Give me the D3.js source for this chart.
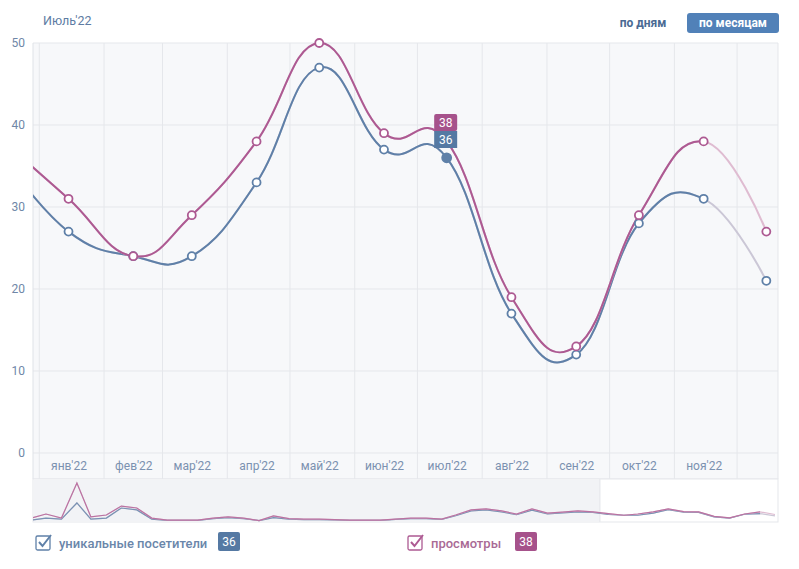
<!DOCTYPE html>
<html>
<head>
<meta charset="utf-8">
<script src="https://cdn.jsdelivr.net/npm/d3@7"></script>
<style>
    body { margin: 0; background: #fff; font-family: Roboto, "Noto Sans", sans-serif; }
    svg text { font-family: Roboto, "Noto Sans", sans-serif; }
</style>
</head>
<body>
<div id="chart"></div>
<script>
// Monthly points, Dec'21 sits just left of the visible range
const months = ['2021-12-15', '2022-01-15', '2022-02-15', '2022-03-15', '2022-04-15', '2022-05-15',
    '2022-06-15', '2022-07-15', '2022-08-15', '2022-09-15', '2022-10-15', '2022-11-15', '2022-12-15'];
const visitors = [36, 27, 24, 24, 33, 47, 37, 36, 17, 12, 28, 31, 21];
const views = [38, 31, 24, 29, 38, 50, 39, 38, 19, 13, 29, 38, 27];

const tickLabels = ["янв'22", "фев'22", "мар'22", "апр'22", "май'22", "июн'22",
    "июл'22", "авг'22", "сен'22", "окт'22", "ноя'22"];
const yTicks = [0, 10, 20, 30, 40, 50];

// Navigator history Nov'18 .. Nov'21
const historyStart = '2018-11-15';
const historyVisitors = [4, 12,
    8, 75, 8, 12, 54, 46, 8, 3, 3, 3, 10, 14,
    10, 2, 14, 8, 6, 6, 5, 3, 3, 3, 7, 10,
    10, 7, 22, 42, 46, 38, 26, 45, 30, 34, 38];
const historyViews = [12, 29,
    12, 158, 17, 25, 62, 54, 12, 4, 4, 4, 12, 17,
    12, 2, 21, 10, 8, 8, 6, 4, 4, 4, 8, 12,
    12, 8, 25, 46, 50, 42, 29, 50, 33, 37, 42];

const hoverIndex = 7; // июл'22
const title = "Июль'22";
const seriesNames = ['уникальные посетители', 'просмотры'];

class StatsChart {
    constructor() {
        this.width = 799;
        this.height = 569;
        this.plot = { left: 33, right: 778, top: 43, bottom: 453, band: 479 };
        this.nav = { top: 479, bottom: 522 };
        this.colors = ['#5f80a8', '#ad5a92'];
        this.fadedColors = ['#cbc7d6', '#dfbcd1'];
        this.badgeColors = ['#5579a3', '#a6528b'];
        this.grid = '#e5e7eb';

        this.parse = d3.timeParse('%Y-%m-%d');
        this.dates = months.map(this.parse);

        this.svg = d3.select('#chart').append('svg')
            .attr('width', this.width)
            .attr('height', this.height);

        this.buildScales();
        this.drawBackground();
        this.drawSeries();
        this.drawTooltip();
        this.drawNavigator();
        this.drawHeader();
        this.drawLegend();
    }

    buildScales() {
        this.x = d3.scaleTime()
            .domain([new Date(2021, 11, 29), new Date(2022, 11, 20, 14)])
            .range([this.plot.left, this.plot.right]);
        this.y = d3.scaleLinear()
            .domain([0, 50])
            .range([this.plot.bottom, this.plot.top]);
    }

    drawBackground() {
        const p = this.plot;
        this.svg.append('rect')
            .attr('x', p.left).attr('y', p.top)
            .attr('width', p.right - p.left).attr('height', p.band - p.top)
            .attr('fill', '#f7f8fa');

        // month boundaries
        const bounds = d3.timeMonth.range(new Date(2022, 0, 1), new Date(2022, 11, 2));
        this.svg.append('g').selectAll('line')
            .data(bounds)
            .join('line')
            .attr('x1', d => this.x(d)).attr('x2', d => this.x(d))
            .attr('y1', p.top).attr('y2', p.band)
            .attr('stroke', this.grid);

        this.svg.append('g').selectAll('line')
            .data(yTicks)
            .join('line')
            .attr('x1', p.left).attr('x2', p.right)
            .attr('y1', d => this.y(d)).attr('y2', d => this.y(d))
            .attr('stroke', this.grid);

        this.svg.append('line')
            .attr('x1', p.left).attr('x2', p.right)
            .attr('y1', p.band).attr('y2', p.band)
            .attr('stroke', this.grid);
        this.svg.append('line')
            .attr('x1', p.left).attr('x2', p.left)
            .attr('y1', p.top).attr('y2', p.band)
            .attr('stroke', '#dfe2e7');
        this.svg.append('line')
            .attr('x1', p.right).attr('x2', p.right)
            .attr('y1', p.top).attr('y2', p.band)
            .attr('stroke', this.grid);

        // y axis labels
        const yAxis = d3.axisLeft(this.y).tickValues(yTicks).tickSize(0).tickPadding(0);
        const gy = this.svg.append('g')
            .attr('transform', `translate(${p.left - 8},0)`)
            .call(yAxis);
        gy.select('.domain').remove();
        gy.selectAll('text').attr('fill', '#6f87a7').style('font-size', '12px');

        // month labels in the band under zero
        const tickDates = this.dates.slice(1, 1 + tickLabels.length);
        const xAxis = d3.axisBottom(this.x)
            .tickValues(tickDates)
            .tickFormat((d, i) => tickLabels[i])
            .tickSize(0).tickPadding(0);
        const gx = this.svg.append('g')
            .attr('transform', `translate(0,${p.bottom + 8})`)
            .call(xAxis);
        gx.select('.domain').remove();
        gx.selectAll('text').attr('fill', '#7b91b0').style('font-size', '12px');
    }

    drawSeries() {
        const p = this.plot;
        const defs = this.svg.append('defs');
        defs.append('clipPath').attr('id', 'plot-clip')
            .append('rect')
            .attr('x', p.left).attr('y', p.top - 10)
            .attr('width', p.right - p.left).attr('height', p.bottom - p.top + 20);
        // solid part ends at the last complete month
        const lastFull = this.x(this.dates[this.dates.length - 2]);
        defs.append('clipPath').attr('id', 'solid-clip')
            .append('rect')
            .attr('x', p.left).attr('y', p.top - 10)
            .attr('width', lastFull - p.left).attr('height', p.bottom - p.top + 20);

        const line = d3.line()
            .x((d, i) => this.x(this.dates[i]))
            .y(d => this.y(d))
            .curve(d3.curveCardinal.tension(-0.3));

        const series = [visitors, views];
        const g = this.svg.append('g').attr('clip-path', 'url(#plot-clip)');
        series.forEach((values, s) => {
            g.append('path')
                .attr('d', line(values))
                .attr('fill', 'none')
                .attr('stroke', this.fadedColors[s])
                .attr('stroke-width', 2);
            g.append('path')
                .attr('d', line(values))
                .attr('clip-path', 'url(#solid-clip)')
                .attr('fill', 'none')
                .attr('stroke', this.colors[s])
                .attr('stroke-width', 2);
        });

        series.forEach((values, s) => {
            const pts = values.map((v, i) => ({ v, i })).filter(d => d.i > 0);
            this.svg.append('g').selectAll('circle')
                .data(pts)
                .join('circle')
                .attr('cx', d => this.x(this.dates[d.i]))
                .attr('cy', d => this.y(d.v))
                .attr('r', d => d.i === hoverIndex && s === 0 ? 4.5 : 4)
                .attr('fill', d => d.i === hoverIndex && s === 0 ? this.colors[s] : '#fff')
                .attr('stroke', this.colors[s])
                .attr('stroke-width', 1.8);
        });
    }

    drawTooltip() {
        const cx = this.x(this.dates[hoverIndex]);
        const boxW = 23, boxH = 17;
        const top = 114;
        const rows = [
            { value: views[hoverIndex], color: this.badgeColors[1] },
            { value: visitors[hoverIndex], color: this.badgeColors[0] }
        ];
        const g = this.svg.append('g');
        rows.forEach((r, i) => {
            g.append('rect')
                .attr('x', cx - boxW / 2 - 1).attr('y', top + i * boxH)
                .attr('width', boxW).attr('height', boxH)
                .attr('rx', i === 0 ? 2 : 0)
                .attr('fill', r.color);
            g.append('text')
                .attr('x', cx - 1).attr('y', top + i * boxH + boxH / 2)
                .attr('dy', '0.36em')
                .attr('text-anchor', 'middle')
                .attr('fill', '#fff')
                .style('font-size', '12px')
                .text(r.value);
        });
    }

    drawNavigator() {
        const p = this.plot, n = this.nav;
        const start = this.parse(historyStart);
        const navDates = d3.range(historyViews.length + months.length)
            .map(i => d3.timeMonth.offset(start, i));
        const navVisitors = historyVisitors.concat(visitors);
        const navViews = historyViews.concat(views);

        const nx = d3.scaleTime()
            .domain([navDates[0], navDates[navDates.length - 1]])
            .range([31, 775]);
        const ny = d3.scaleLinear()
            .domain([0, d3.max(navViews)])
            .range([n.bottom - 1, 483]);

        const maskEnd = nx(this.x.domain()[0]);
        this.svg.append('rect')
            .attr('x', p.left).attr('y', n.top)
            .attr('width', p.right - p.left).attr('height', n.bottom - n.top)
            .attr('fill', '#fff').attr('stroke', this.grid);
        this.svg.append('rect')
            .attr('x', p.left + 0.5).attr('y', n.top + 0.5)
            .attr('width', maskEnd - p.left).attr('height', n.bottom - n.top - 1)
            .attr('fill', '#f2f3f6');
        this.svg.append('line')
            .attr('x1', maskEnd).attr('x2', maskEnd)
            .attr('y1', n.top).attr('y2', n.bottom)
            .attr('stroke', this.grid);

        const defs = this.svg.select('defs');
        defs.append('clipPath').attr('id', 'nav-clip')
            .append('rect')
            .attr('x', p.left).attr('y', n.top)
            .attr('width', nx(navDates[navDates.length - 2]) - p.left)
            .attr('height', n.bottom - n.top);
        defs.append('clipPath').attr('id', 'nav-box')
            .append('rect')
            .attr('x', p.left).attr('y', n.top)
            .attr('width', p.right - p.left).attr('height', n.bottom - n.top);

        const navLine = d3.line()
            .x((d, i) => nx(navDates[i]))
            .y(d => ny(d));

        const g = this.svg.append('g').attr('clip-path', 'url(#nav-box)');
        [navVisitors, navViews].forEach((values, s) => {
            g.append('path')
                .attr('d', navLine(values))
                .attr('fill', 'none')
                .attr('stroke', this.fadedColors[s])
                .attr('stroke-width', 1.2);
            g.append('path')
                .attr('d', navLine(values))
                .attr('clip-path', 'url(#nav-clip)')
                .attr('fill', 'none')
                .attr('stroke', this.colors[s])
                .attr('stroke-opacity', 0.75)
                .attr('stroke-width', 1.2);
        });
    }

    drawHeader() {
        this.svg.append('text')
            .attr('x', 43).attr('y', 21).attr('dy', '0.35em')
            .attr('fill', '#5d7ca3')
            .style('font-size', '12.5px')
            .text(title);

        this.svg.append('text')
            .attr('x', 643).attr('y', 23).attr('dy', '0.35em')
            .attr('text-anchor', 'middle')
            .attr('fill', '#4a6a93')
            .style('font-size', '12px').style('font-weight', 700)
            .text('по дням');

        this.svg.append('rect')
            .attr('x', 687).attr('y', 13)
            .attr('width', 92).attr('height', 20)
            .attr('rx', 3)
            .attr('fill', '#5181b8');
        this.svg.append('text')
            .attr('x', 733).attr('y', 23).attr('dy', '0.35em')
            .attr('text-anchor', 'middle')
            .attr('fill', '#fff')
            .style('font-size', '12px').style('font-weight', 700)
            .text('по месяцам');
    }

    drawLegend() {
        const items = [
            { x: 36, name: seriesNames[0], value: visitors[hoverIndex], badgeX: 218 },
            { x: 408, name: seriesNames[1], value: views[hoverIndex], badgeX: 515 }
        ];
        items.forEach((it, s) => {
            const g = this.svg.append('g');
            g.append('rect')
                .attr('x', it.x).attr('y', 536)
                .attr('width', 14).attr('height', 14)
                .attr('rx', 1.5)
                .attr('fill', '#fff')
                .attr('stroke', this.colors[s])
                .attr('stroke-width', 1.3);
            g.append('path')
                .attr('d', `M${it.x + 3},${542} L${it.x + 6.5},${546} L${it.x + 15},${535}`)
                .attr('fill', 'none')
                .attr('stroke', this.colors[s])
                .attr('stroke-width', 2);
            g.append('text')
                .attr('x', it.x + 23).attr('y', 543).attr('dy', '0.35em')
                .attr('fill', s === 0 ? '#6a86aa' : '#a96a95')
                .style('font-size', '13px').style('font-weight', 500)
                .text(it.name);
            g.append('rect')
                .attr('x', it.badgeX).attr('y', 532)
                .attr('width', 22).attr('height', 19)
                .attr('rx', 2)
                .attr('fill', this.badgeColors[s]);
            g.append('text')
                .attr('x', it.badgeX + 11).attr('y', 542).attr('dy', '0.35em')
                .attr('text-anchor', 'middle')
                .attr('fill', '#fff')
                .style('font-size', '12px')
                .text(it.value);
        });
    }
}

document.addEventListener('DOMContentLoaded', () => {
    new StatsChart();
});
</script>
</body>
</html>
